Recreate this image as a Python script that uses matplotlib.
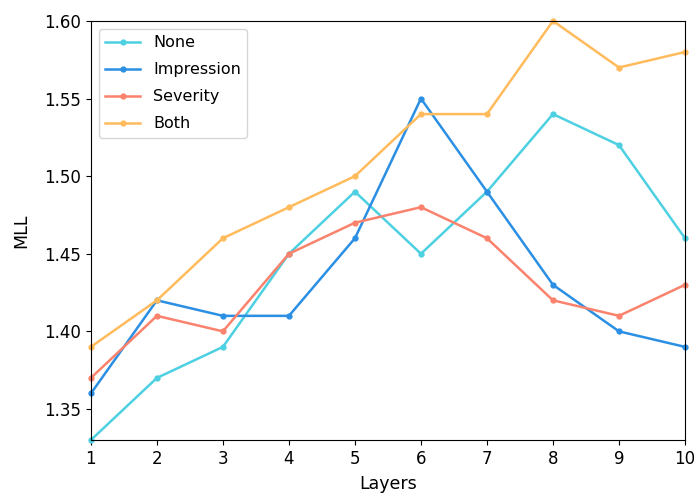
import numpy as np
import matplotlib
matplotlib.use("Agg")
import matplotlib.pyplot as plt

# data
layers = [1, 2, 3, 4, 5, 6, 7, 8, 9, 10]
mll_none = [1.33, 1.37, 1.39, 1.45, 1.49, 1.45, 1.49, 1.54, 1.52, 1.46]
mll_impression = [1.36, 1.42, 1.41, 1.41, 1.46, 1.55, 1.49, 1.43, 1.40, 1.39]
mll_severity = [1.37, 1.41, 1.40, 1.45, 1.47, 1.48, 1.46, 1.42, 1.41, 1.43]
mll_both = [1.39, 1.42, 1.46, 1.48, 1.50, 1.54, 1.54, 1.60, 1.57, 1.58]

fig = plt.figure(figsize=(6.94, 4.93), dpi=100)
ax = fig.add_axes([0.131, 0.1075, 0.856, 0.85])

ax.plot(layers, mll_none, marker='o', markersize=3.5, linewidth=1.8, color='#4dd0e1', label='None', clip_on=False)
ax.plot(layers, mll_impression, marker='o', markersize=3.5, linewidth=1.8, color='#2b8fe3', label='Impression', clip_on=False)
ax.plot(layers, mll_severity, marker='o', markersize=3.5, linewidth=1.8, color='#fb826d', label='Severity', clip_on=False)
ax.plot(layers, mll_both, marker='o', markersize=3.5, linewidth=1.8, color='#ffbb5c', label='Both', clip_on=False)

ax.set_xlim(1, 10)
ax.set_ylim(1.33, 1.60)
ax.set_xticks(layers)
ax.set_yticks([1.35, 1.40, 1.45, 1.50, 1.55, 1.60])
ax.set_yticklabels(['1.35', '1.40', '1.45', '1.50', '1.55', '1.60'])
ax.tick_params(labelsize=12)
ax.set_xlabel('Layers', fontsize=12.5, labelpad=5)
ax.set_ylabel('MLL', fontsize=12.5, labelpad=10)
ax.legend(loc='upper left', fontsize=11.5, handlelength=2.2, labelspacing=0.75)

fig.savefig('out.png', dpi=100)
